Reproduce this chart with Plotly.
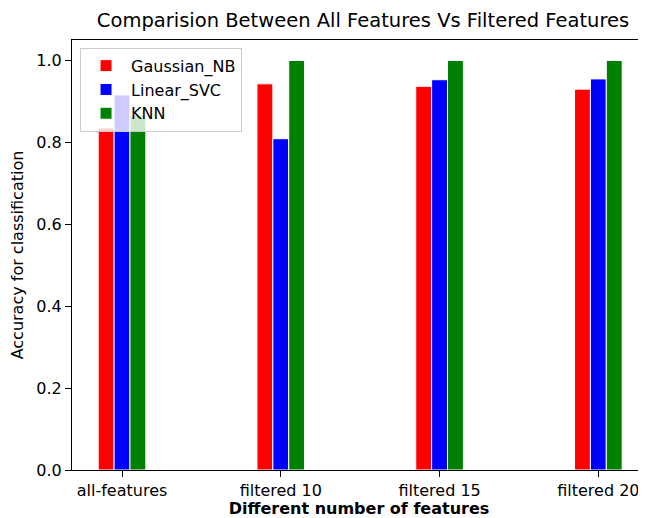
import plotly.graph_objects as go

categories = ["all-features", "filtered 10", "filtered 15", "filtered 20"]
gaussian_nb = [0.835, 0.943, 0.937, 0.930]
linear_svc = [0.916, 0.809, 0.953, 0.955]
knn = [0.866, 1.0, 1.0, 1.0]
y_ticks = [0.0, 0.2, 0.4, 0.6, 0.8, 1.0]

series = [("Gaussian_NB", gaussian_nb, "red"),
          ("Linear_SVC", linear_svc, "blue"),
          ("KNN", knn, "green")]

fig = go.Figure()
for name, vals, col in series:
    fig.add_trace(go.Bar(x=categories, y=vals, name=name,
                         marker=dict(color=col, line=dict(color="white", width=1))))

font = "DejaVu Sans, sans-serif"
fig.update_layout(
    width=638, height=510,
    margin=dict(l=64, r=0, t=32, b=48, autoexpand=False),
    paper_bgcolor="white", plot_bgcolor="white",
    barmode="group", bargap=0.7, bargroupgap=0,
    font=dict(family=font, size=16, color="black"),
    title=dict(text="Comparision Between All Features Vs Filtered Features",
               x=0.507, xanchor="center", xref="paper", y=0.976, yanchor="middle",
               font=dict(size=19.5, family=font, color="black")),
    legend=dict(x=0.014, y=0.982, xanchor="left", yanchor="top",
                bgcolor="rgba(255,255,255,0.8)", bordercolor="#cccccc", borderwidth=1,
                font=dict(size=16, family=font), itemwidth=40, tracegroupgap=0),
    showlegend=True,
)
fig.update_xaxes(range=[-0.315, 3.30], showline=True, linecolor="black", linewidth=1,
                 mirror=True, ticks="outside", ticklen=6, tickcolor="black",
                 showgrid=False, tickfont=dict(size=16), automargin=False,
                 title=dict(text="<b>Different number of features</b>", font=dict(size=16), standoff=6))
fig.update_yaxes(range=[0, 1.05], tickvals=y_ticks, ticktext=[f"{v:.1f}" for v in y_ticks],
                 showline=True, linecolor="black", linewidth=1, ticks="outside", ticklen=6,
                 tickcolor="black", showgrid=False, zeroline=False, tickfont=dict(size=16),
                 automargin=False,
                 title=dict(text="Accuracy for classification", font=dict(size=16), standoff=10))

fig.write_html("out.html")
